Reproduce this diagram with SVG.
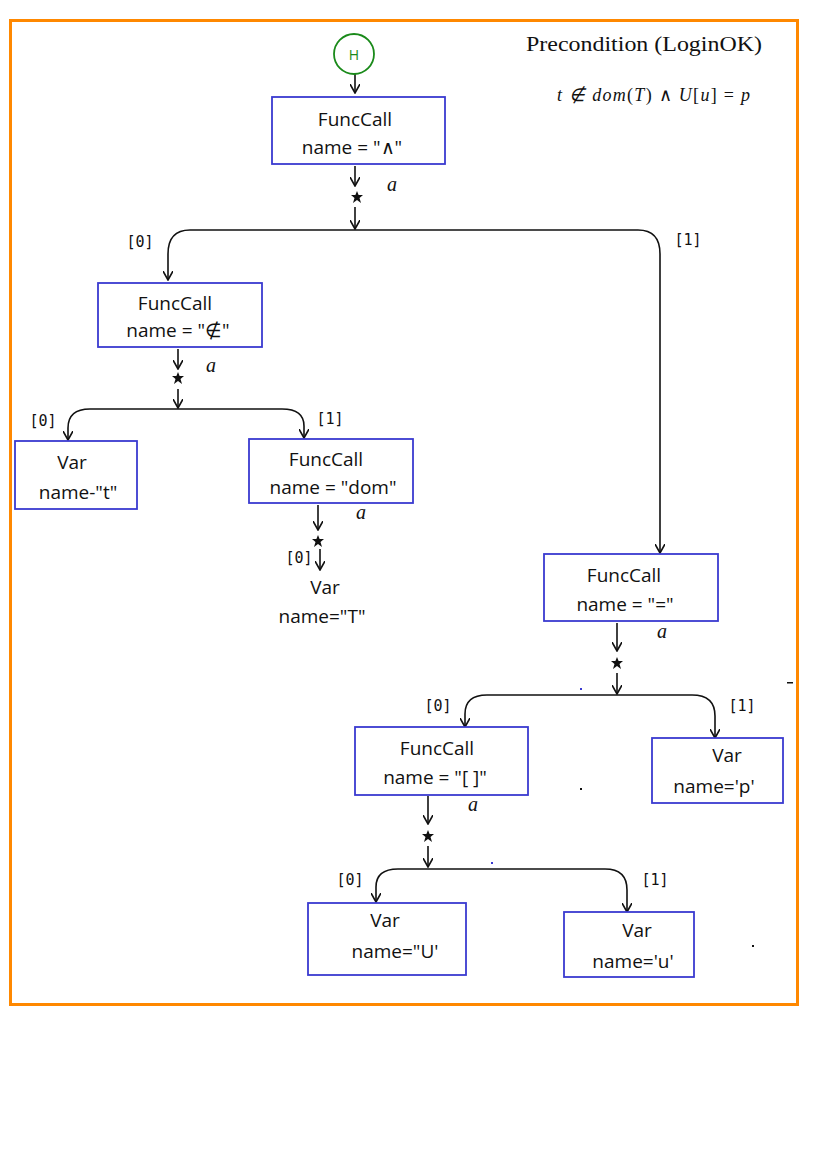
<svg xmlns="http://www.w3.org/2000/svg" width="827" height="1169" viewBox="0 0 827 1169">
  <style>
    .node { fill: #ffffff; stroke: #3a3ad0; stroke-width: 1.8; }
    .hand { font-family: "Open Sans", "Liberation Sans", sans-serif; font-size: 19px; fill: #111; text-anchor: middle; }
    .lbl { font-family: "DejaVu Sans Mono", "Liberation Mono", monospace; font-size: 15px; fill: #111; text-anchor: middle; }
    .ital { font-family: "Liberation Serif", serif; font-style: italic; font-size: 20px; fill: #111; }
    .wire { fill: none; stroke: #111; stroke-width: 1.6; }
    .title { font-family: "Liberation Serif", serif; font-size: 21px; fill: #111; }
    .math { font-family: "Liberation Serif", serif; font-style: italic; font-size: 18px; fill: #111; }
    .mathup { font-style: normal; }
  </style>
  <defs>
    <marker id="arrd" viewBox="0 0 10 10" refX="5" refY="9" markerWidth="10" markerHeight="10" markerUnits="userSpaceOnUse" orient="0">
      <path d="M0 0 L5 9 L10 0" fill="none" stroke="#111" stroke-width="1.6"/>
    </marker>
    <polygon id="star" points="0,-6 1.6,-2 6,-2 2.5,1 4,6 0,3 -4,6 -2.5,1 -6,-2 -1.6,-2" fill="#111"/>
  </defs>

  <!-- outer frame -->
  <rect x="10.5" y="20.5" width="787" height="984" fill="none" stroke="#ff8800" stroke-width="3"/>

  <!-- heading and formula -->
  <text class="title" x="526" y="51" textLength="236" lengthAdjust="spacingAndGlyphs">Precondition (LoginOK)</text>
  <text class="math" x="557" y="101" textLength="193" lengthAdjust="spacing">t ∉ dom<tspan class="mathup">(</tspan>T<tspan class="mathup">) ∧ </tspan>U<tspan class="mathup">[</tspan>u<tspan class="mathup">] = </tspan>p</text>

  <!-- connectors -->
  <g id="connectors">
    <!-- root -->
    <path class="wire" d="M355 72 L355 93" marker-end="url(#arrd)"/>
    <path class="wire" d="M355 166 L355 186" marker-end="url(#arrd)"/>
    <use href="#star" x="357" y="197"/>
    <path class="wire" d="M355 207 L355 229" marker-end="url(#arrd)"/>
    <path class="wire" d="M355 230 L190 230 Q168 230 168 254 L168 280" marker-end="url(#arrd)"/>
    <path class="wire" d="M355 230 L638 230 Q660 230 660 254 L660 553" marker-end="url(#arrd)"/>

    <!-- not-in -->
    <path class="wire" d="M178 349 L178 369" marker-end="url(#arrd)"/>
    <use href="#star" x="178" y="378"/>
    <path class="wire" d="M178 389 L178 408" marker-end="url(#arrd)"/>
    <path class="wire" d="M178 409 L90 409 Q68 409 68 428 L68 440" marker-end="url(#arrd)"/>
    <path class="wire" d="M178 409 L282 409 Q304 409 304 426 L304 438" marker-end="url(#arrd)"/>

    <!-- dom -->
    <path class="wire" d="M318 505 L318 530" marker-end="url(#arrd)"/>
    <use href="#star" x="318" y="541"/>
    <path class="wire" d="M320 549 L320 570" marker-end="url(#arrd)"/>

    <!-- equals -->
    <path class="wire" d="M617 623 L617 651" marker-end="url(#arrd)"/>
    <use href="#star" x="617" y="663"/>
    <path class="wire" d="M617 673 L617 694" marker-end="url(#arrd)"/>
    <path class="wire" d="M617 695 L487 695 Q465 695 465 714 L465 727" marker-end="url(#arrd)"/>
    <path class="wire" d="M617 695 L692 695 Q715 695 715 716 L715 738" marker-end="url(#arrd)"/>

    <!-- index -->
    <path class="wire" d="M428 796 L428 824" marker-end="url(#arrd)"/>
    <use href="#star" x="428" y="836"/>
    <path class="wire" d="M428 846 L428 867" marker-end="url(#arrd)"/>
    <path class="wire" d="M428 869 L398 869 Q376 869 376 887 L376 902" marker-end="url(#arrd)"/>
    <path class="wire" d="M428 869 L605 869 Q627 869 627 890 L627 912" marker-end="url(#arrd)"/>

    <!-- edge labels -->
    <text class="ital" x="387" y="191">a</text>
    <text class="ital" x="206" y="372">a</text>
    <text class="ital" x="356" y="519">a</text>
    <text class="ital" x="657" y="638">a</text>
    <text class="ital" x="468" y="811">a</text>
    <text class="lbl" x="140" y="247">[0]</text>
    <text class="lbl" x="688" y="245">[1]</text>
    <text class="lbl" x="43" y="426">[0]</text>
    <text class="lbl" x="330" y="424">[1]</text>
    <text class="lbl" x="299" y="563">[0]</text>
    <text class="lbl" x="438" y="711">[0]</text>
    <text class="lbl" x="742" y="711">[1]</text>
    <text class="lbl" x="350" y="885">[0]</text>
    <text class="lbl" x="655" y="885">[1]</text>
  </g>

  <!-- stray marks -->
  <rect x="580" y="688" width="2" height="2" fill="#3a3ad0"/>
  <rect x="491" y="862" width="2" height="2" fill="#3a3ad0"/>
  <rect x="580" y="788" width="2" height="2" fill="#111"/>
  <rect x="752" y="945" width="2" height="2" fill="#111"/>
  <rect x="787" y="682" width="6" height="1.5" fill="#111"/>

  <!-- nodes -->
  <g id="start">
    <circle cx="354" cy="54" r="20" fill="#fff" stroke="#1a8a1a" stroke-width="1.8"/>
    <text x="354" y="60" font-family="Open Sans, Liberation Sans, sans-serif" font-size="14" fill="#1a8a1a" text-anchor="middle">H</text>
  </g>

  <g id="and">
    <rect class="node" x="272" y="97" width="173" height="67"/>
    <text class="hand" x="355" y="126">FuncCall</text>
    <text class="hand" x="352" y="154">name = "∧"</text>
  </g>

  <g id="notin">
    <rect class="node" x="98" y="283" width="164" height="64"/>
    <text class="hand" x="175" y="310">FuncCall</text>
    <text class="hand" x="178" y="337">name = "∉"</text>
  </g>

  <g id="var-t">
    <rect class="node" x="15" y="441" width="122" height="68"/>
    <text class="hand" x="72" y="469">Var</text>
    <text class="hand" x="78" y="499">name-"t"</text>
  </g>

  <g id="dom">
    <rect class="node" x="249" y="439" width="164" height="64"/>
    <text class="hand" x="326" y="466">FuncCall</text>
    <text class="hand" x="333" y="494">name = "dom"</text>
  </g>

  <g id="var-T">
    <text class="hand" x="325" y="594">Var</text>
    <text class="hand" x="322" y="623">name="T"</text>
  </g>

  <g id="equals">
    <rect class="node" x="544" y="554" width="174" height="67"/>
    <text class="hand" x="624" y="582">FuncCall</text>
    <text class="hand" x="625" y="611">name = "="</text>
  </g>

  <g id="index">
    <rect class="node" x="355" y="727" width="173" height="68"/>
    <text class="hand" x="437" y="755">FuncCall</text>
    <text class="hand" x="435" y="784">name = "[ ]"</text>
  </g>

  <g id="var-p">
    <rect class="node" x="652" y="738" width="131" height="65"/>
    <text class="hand" x="727" y="762">Var</text>
    <text class="hand" x="714" y="793">name='p'</text>
  </g>

  <g id="var-U">
    <rect class="node" x="308" y="903" width="158" height="72"/>
    <text class="hand" x="385" y="927">Var</text>
    <text class="hand" x="395" y="958">name="U'</text>
  </g>

  <g id="var-u">
    <rect class="node" x="564" y="912" width="130" height="65"/>
    <text class="hand" x="637" y="937">Var</text>
    <text class="hand" x="633" y="968">name='u'</text>
  </g>
</svg>
